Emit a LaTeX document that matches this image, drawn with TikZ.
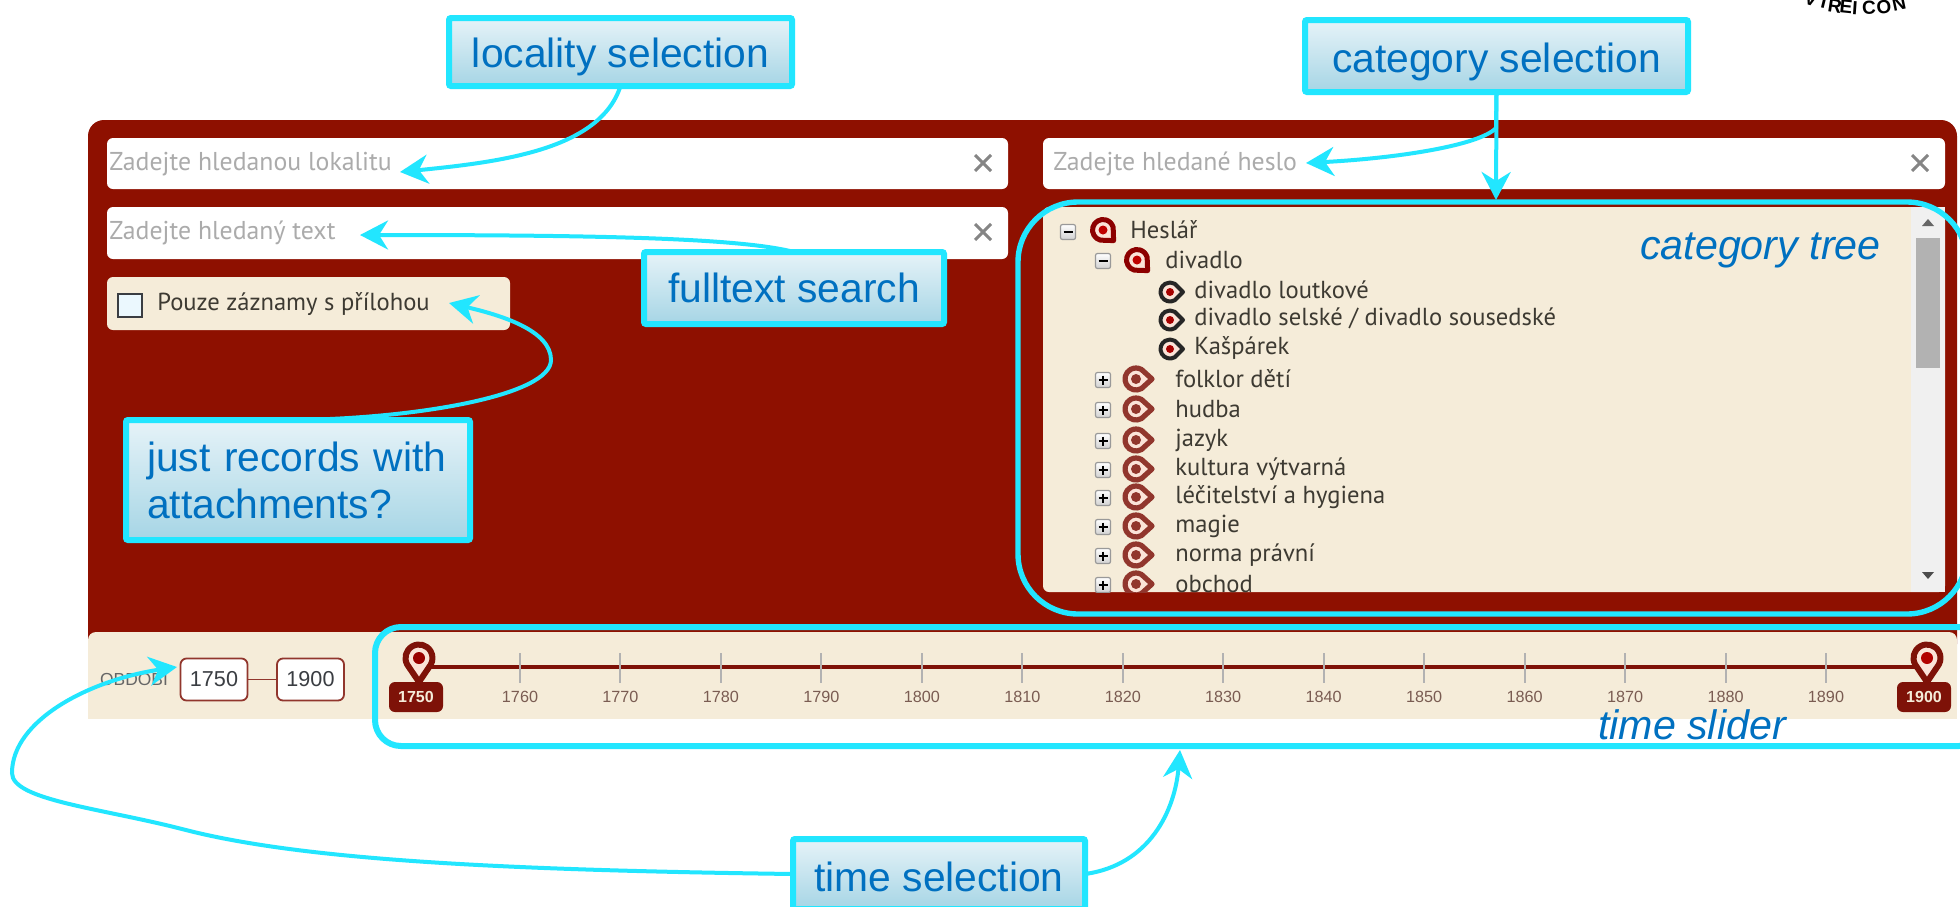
\documentclass[tikz,border=0pt]{standalone}
\usepackage{fontspec}
\setmainfont{Liberation Sans}
\newfontfamily\uifont{PT Sans}
\usetikzlibrary{arrows.meta}
\definecolor{panelred}{HTML}{8E1000}
\definecolor{cream}{HTML}{F5ECD9}
\definecolor{callcyan}{HTML}{22E6FF}
\definecolor{calltext}{HTML}{0070C0}
\definecolor{hint}{HTML}{ABABAB}
\definecolor{uitext}{HTML}{3D3A32}
\definecolor{pinred}{HTML}{7E1208}
\definecolor{pale}{HTML}{FBE3D8}
\definecolor{ticktext}{HTML}{7A5C52}
\tikzset{
  callout/.style={draw=callcyan,line width=3pt,rounded corners=1pt,
    top color={rgb,255:red,230;green,243;blue,248},bottom color={rgb,255:red,166;green,213;blue,229},
    text=calltext,font=\fontsize{20.4}{23.5}\selectfont,inner sep=0pt,outer sep=0pt,anchor=center},
  field/.style={fill=white,rounded corners=3pt,inner sep=0pt,outer sep=0pt,anchor=center},
  hinttext/.style={text=hint,font=\uifont\fontsize{12.9}{14}\selectfont,inner sep=0pt,anchor=west},
  treetext/.style={text=uitext,font=\uifont\fontsize{12.3}{14}\selectfont,inner sep=0pt,anchor=west},
  framebox/.style={draw=callcyan,line width=2.7pt},
  conn/.style={draw=callcyan,line width=2pt,-{Stealth[length=14pt,width=14.5pt,inset=4.5pt]}},
  crossmark/.style={draw=black!48,line width=1.5pt},
  italiclabel/.style={text=calltext,font=\itshape\fontsize{20.6}{23}\selectfont,inner sep=0pt},
  yearbox/.style={draw=pinred!85,line width=.9pt,fill=white,rounded corners=3pt,inner sep=0pt,outer sep=0pt,
    minimum width=33.5pt,minimum height=21pt,text=black!75!cyan!60!black,font=\fontsize{10.8}{12}\selectfont},
  tick/.style={draw=black!30,line width=1pt},
  ticklabel/.style={text=ticktext,font=\fontsize{8.1}{9}\selectfont,inner sep=0pt},
  badge/.style={fill=pinred,rounded corners=3pt,minimum width=27pt,minimum height=15pt,inner sep=0pt,
    text=cream,font=\bfseries\fontsize{8}{9}\selectfont},
}
% pin: x, y, rotation, tip distance, radius, outline, dot colour, dot radius, stroke
\newcommand{\drawpin}[9]{%
  \begin{scope}[shift={(#1,#2)},rotate=#3]
    \draw[draw=#6,line width=#9,fill=pale,line join=round]
      (#4,0) -- ({#5*cos(60)},{#5*sin(60)}) arc[start angle=60,end angle=300,radius=#5] -- cycle;
    \fill[#7] (0,0) circle[radius=#8];
  \end{scope}}
% expander box with a plus or a minus
\newcommand{\plusbox}[3]{%
  \draw[draw=black!40,line width=.6pt,rounded corners=1pt,top color=white,bottom color=black!18] (#1-7.5,#2-7.5) rectangle (#1+7.5,#2+7.5);
  \draw[black,line width=.8pt] (#1-4.5,#2) -- (#1+4.5,#2);
  \ifnum#3=1 \draw[black,line width=.8pt] (#1,#2-4.5) -- (#1,#2+4.5);\fi}
\begin{document}
\begin{tikzpicture}[x=0.5pt,y=-0.5pt]
\useasboundingbox (0,0) rectangle (1960,906);
\fill[white] (0,0) rectangle (1960,906);
% logo fragment
\foreach \c/\px/\py/\r [count=\i] in {V/1811/-1/-17,I/1824/2/-14,R/1835/6/-9,E/1846/7/-6,I/1855/8/-4,C/1869/8/2,O/1884/7/7,N/1899/4/12}
  \node[name=logo\i,rotate=\r,inner sep=0pt,font=\bfseries\fontsize{9.5}{10}\selectfont] at (\px,\py) {\c};
% panel
\fill[panelred,rounded corners=8pt] (88,120) rectangle (1957,660);
\fill[cream] (88,640) rectangle (1957,719);
\fill[cream,rounded corners=4pt] (88,632) rectangle (1957,680);
% search fields
\node[field,minimum width=450.5pt,minimum height=25.5pt] (fieldloc) at (557.5,163.5) {};
\node[field,minimum width=450.5pt,minimum height=26pt] (fieldtext) at (557.5,233) {};
\node[field,fill=cream,minimum width=201.5pt,minimum height=26.5pt] (fieldcheck) at (308.5,303.5) {};
\node[field,minimum width=451pt,minimum height=25.5pt] (fieldcat) at (1494,163.5) {};
\node[hinttext] (hintloc) at (109,164) {Zadejte hledanou lokalitu};
\node[hinttext] (hinttext) at (109,233) {Zadejte hledaný text};
\node[hinttext] (hintcat) at (1053,164) {Zadejte hledané heslo};
\foreach \cx/\cy in {983/163,983/232,1920/163}
  \draw[crossmark] (\cx-8,\cy-8) -- (\cx+8,\cy+8) (\cx-8,\cy+8) -- (\cx+8,\cy-8);
\draw[draw=black!70!cyan!50!black,line width=.9pt,fill=white!92!cyan] (118,294) rectangle (142,317);
\node[treetext] (checktext) at (157,304) {Pouze záznamy s přílohou};
% category tree
\fill[cream,rounded corners=3pt] (1043,207) rectangle (1945,592);
\fill[black!6] (1911,207) rectangle (1945,592);
\fill[black!30] (1916,238) rectangle (1940,368);
\fill[black!60] (1928,219) -- (1922,226) -- (1934,226) -- cycle;
\fill[black!70] (1922,572) -- (1934,572) -- (1928,579) -- cycle;
\begin{scope}
\clip (1043,207) rectangle (1911,592);
\plusbox{1068}{232}{0}
\drawpin{1103}{230}{-45}{15}{10.5}{red!55!black}{red!75!black}{4.5}{2.5pt}
\node[treetext] (t0) at (1130,230) {Heslář};
\plusbox{1103}{261}{0}
\drawpin{1137}{260}{-45}{15}{10.5}{red!55!black}{red!75!black}{4.5}{2.5pt}
\node[treetext] (t1) at (1165,260) {divadlo};
\drawpin{1170}{292}{0}{13}{9.5}{black!85}{red!65!black}{4}{2pt}
\node[treetext] (t2) at (1194,290) {divadlo loutkové};
\drawpin{1170}{320}{0}{13}{9.5}{black!85}{red!65!black}{4}{2pt}
\node[treetext] (t3) at (1194,318) {divadlo selské / divadlo sousedské};
\drawpin{1170}{349}{0}{13}{9.5}{black!85}{red!65!black}{4}{2pt}
\node[treetext] (t4) at (1194,348) {Kašpárek};
\foreach \ty/\tx [count=\i] in {380/folklor dětí,410/hudba,441/jazyk,470/kultura výtvarná,498/léčitelství a hygiena,527/magie,556/norma právní,585/obchod}{
  \plusbox{1103}{\ty}{1}
  \drawpin{1136}{\ty-1}{0}{16}{11}{pinred!85}{pinred!85}{5}{2.6pt}
  \node[treetext,name=row\i] at (1175,\ty-1) {\tx};
}
\end{scope}
% period strip
\node[text=black!60,font=\fontsize{8.7}{10}\selectfont,inner sep=0pt] (period) at (134,678) {OBDOBÍ};
\node[yearbox] (from) at (214,679.5) {1750};
\node[yearbox] (to) at (310.5,679.5) {1900};
\draw[pinred!85,line width=.9pt] (from) -- (to);
% slider
\coordinate (slstart) at (419,667);
\coordinate (slend) at (1927,667);
\draw[pinred,line width=1.6pt] (slstart) -- (slend);
\foreach \yr [count=\i] in {1760,1770,1780,1790,1800,1810,1820,1830,1840,1850,1860,1870,1880,1890}{
  \pgfmathsetmacro{\tx}{520+(\i-1)*100.46}
  \draw[tick] (\tx,653) -- (\tx,683);
  \node[ticklabel,name=yr\i] at (\tx,697) {\yr};
}
\drawpin{419}{658}{-90}{24}{13.5}{pinred}{red!60!black}{6}{3pt}
\drawpin{1927}{658}{-90}{24}{13.5}{pinred}{red!70!black}{6}{3pt}
\node[badge] (ba) at (416,697) {1750};
\node[badge] (bb) at (1924,697) {1900};
% frames
\draw[framebox,rounded corners=30pt] (1018,202) rectangle (1967,614);
\draw[framebox,line width=3pt,rounded corners=13pt] (375,627) rectangle (1985,746);
% labels
\node[italiclabel,anchor=east] (cattree) at (1881,250) {category tree};
\node[italiclabel] (timeslider) at (1692,725) {time slider};
% callouts
\node[callout,minimum width=171.5pt,minimum height=34pt] (locality) at (620.5,52) {\raisebox{-7.6pt}[0pt][0pt]{locality selection}};
\node[callout,minimum width=191.5pt,minimum height=36pt] (category) at (1496.5,56) {\raisebox{-8.4pt}[0pt][0pt]{category selection}};
\node[callout,minimum width=150pt,minimum height=36pt] (fulltext) at (794,288) {fulltext search};
\node[callout,text width=151pt,inner xsep=10.5pt,inner ysep=0pt,minimum height=60pt,align=left] (records) at (298,480) {just records with\\attachments?};
\node[callout,minimum width=146pt,minimum height=35pt] (timesel) at (939,874) {\raisebox{-8.6pt}[0pt][0pt]{time selection}};
% connectors
\coordinate (tiploc) at (400,172);
\coordinate (tipcat) at (1306,163);
\coordinate (branch) at (1496,128);
\coordinate (tiptree) at (1496,200);
\coordinate (tipfull) at (360,235);
\coordinate (tiprec) at (449,303);
\coordinate (tipperiod) at (177,667);
\coordinate (tipslider) at (1180,750);
\draw[conn] (locality.south) .. controls (600,150) and (500,162) .. (tiploc);
\draw[conn] (category.south) -- (tiptree);
\draw[conn] (category.south) -- (branch) .. controls (1480,145) and (1400,158) .. (tipcat);
\draw[conn] (fulltext.north) .. controls (740,238) and (600,235) .. (tipfull);
\draw[conn] (records.north) .. controls (420,418) and (551,395) .. (551,360) .. controls (551,330) and (500,315) .. (tiprec);
\draw[conn] (timesel.west) .. controls (500,870) and (300,860) .. (182,829) .. controls (100,808) and (12,800) .. (12,773) .. controls (12,720) and (90,680) .. (tipperiod);
\draw[conn] (timesel.east) .. controls (1150,865) and (1175,810) .. (tipslider);
\end{tikzpicture}
\end{document}
